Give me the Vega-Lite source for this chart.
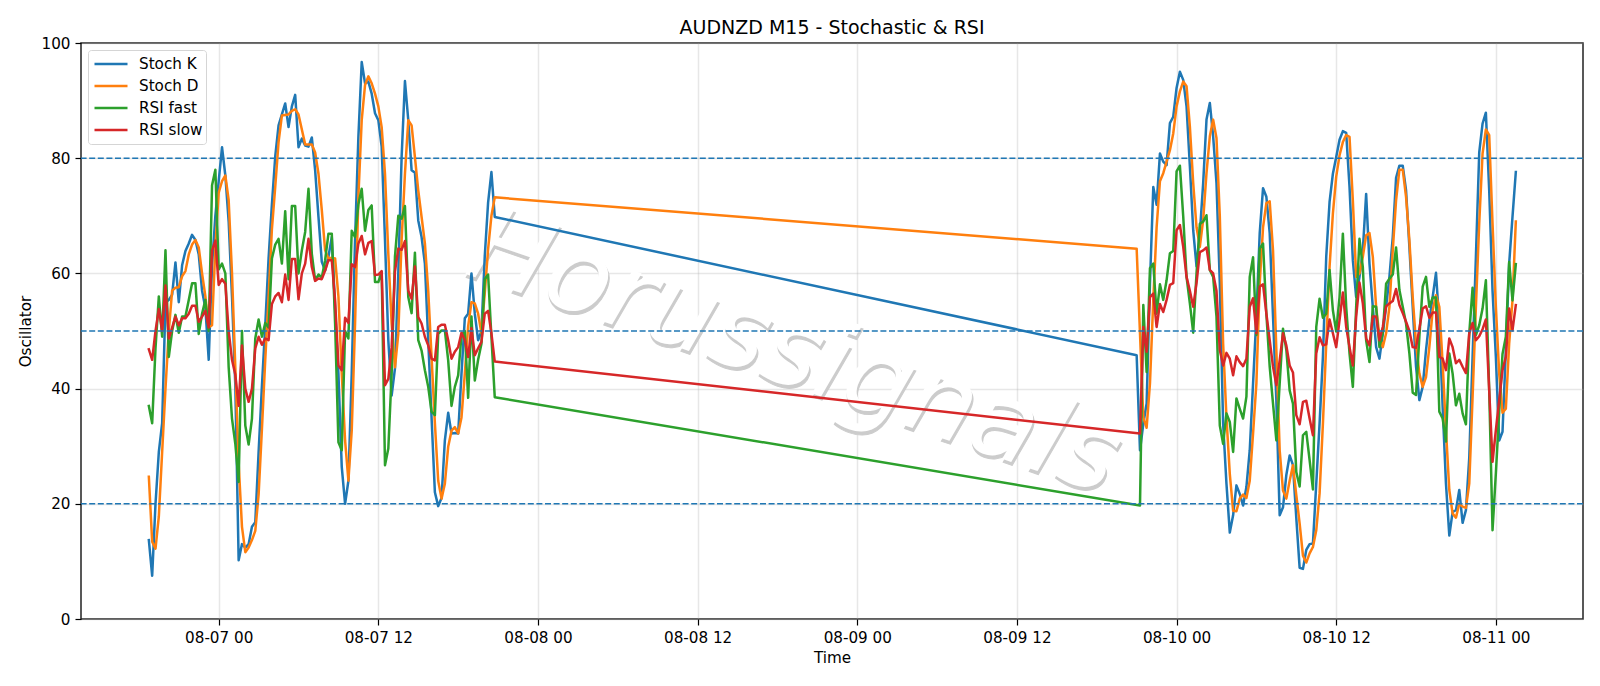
{"$schema":"https://vega.github.io/schema/vega-lite/v6.json","width":1502,"height":576,"autosize":{"type":"none"},"padding":{"left":81,"top":43,"right":17,"bottom":67},"background":"white","title":{"text":"AUDNZD M15 - Stochastic & RSI","font":"DejaVu Sans","fontSize":19,"fontWeight":"normal","color":"#000","anchor":"middle","offset":-2},"config":{"view":{"stroke":"#222","strokeWidth":1.5},"font":"DejaVu Sans"},"layer":[{"data":{"values":[{"t":"2025-08-08T19:20:00","value":45.5,"label":"Horussignals"}]},"mark":{"type":"text","font":"DejaVu Sans","fontStyle":"italic","fontSize":106,"angle":19,"align":"center","baseline":"middle","color":"#cccccc","stroke":"#cccccc","strokeWidth":1},"encoding":{"x":{"field":"t","type":"temporal","title":"Time"},"y":{"field":"value","type":"quantitative","title":"Oscillator"},"text":{"field":"label"}}},{"data":{"values":[{"t":"2025-08-08T19:20:00","value":45.5,"label":"Horussignals"}]},"mark":{"type":"text","font":"DejaVu Sans","fontStyle":"italic","fontSize":106,"angle":19,"align":"center","baseline":"middle","color":"#ffffff","dx":-2,"dy":-3},"encoding":{"x":{"field":"t","type":"temporal","title":"Time"},"y":{"field":"value","type":"quantitative","title":"Oscillator"},"text":{"field":"label"}}},{"data":{"values":[
{"t":"2025-08-06T18:45:00","Stoch K":13.7,"Stoch D":24.7,"RSI fast":37,"RSI slow":46.8},
{"t":"2025-08-06T19:00:00","Stoch K":7.5,"Stoch D":13.4,"RSI fast":34,"RSI slow":45},
{"t":"2025-08-06T19:15:00","Stoch K":20,"Stoch D":12.2,"RSI fast":47,"RSI slow":50},
{"t":"2025-08-06T19:30:00","Stoch K":29,"Stoch D":17.8,"RSI fast":56,"RSI slow":53.8},
{"t":"2025-08-06T19:45:00","Stoch K":34,"Stoch D":29,"RSI fast":49,"RSI slow":50},
{"t":"2025-08-06T20:00:00","Stoch K":55,"Stoch D":40,"RSI fast":64,"RSI slow":57.9},
{"t":"2025-08-06T20:15:00","Stoch K":55.4,"Stoch D":50,"RSI fast":45.5,"RSI slow":48.7},
{"t":"2025-08-06T20:30:00","Stoch K":56.3,"Stoch D":57,"RSI fast":50,"RSI slow":50.6},
{"t":"2025-08-06T20:45:00","Stoch K":61.9,"Stoch D":57.5,"RSI fast":52.8,"RSI slow":52.5},
{"t":"2025-08-06T21:00:00","Stoch K":55,"Stoch D":57.6,"RSI fast":49.7,"RSI slow":51},
{"t":"2025-08-06T21:15:00","Stoch K":61.4,"Stoch D":59.5,"RSI fast":52.5,"RSI slow":52.2},
{"t":"2025-08-06T21:30:00","Stoch K":63.9,"Stoch D":60.4,"RSI fast":52.5,"RSI slow":52.2},
{"t":"2025-08-06T21:45:00","Stoch K":65.2,"Stoch D":63.3,"RSI fast":55.4,"RSI slow":53},
{"t":"2025-08-06T22:00:00","Stoch K":66.7,"Stoch D":65,"RSI fast":58.3,"RSI slow":54.4},
{"t":"2025-08-06T22:15:00","Stoch K":65.8,"Stoch D":65.8,"RSI fast":58.3,"RSI slow":54.4},
{"t":"2025-08-06T22:30:00","Stoch K":63.3,"Stoch D":64.5,"RSI fast":49.5,"RSI slow":51.6},
{"t":"2025-08-06T22:45:00","Stoch K":57,"Stoch D":60,"RSI fast":53,"RSI slow":52.5},
{"t":"2025-08-06T23:00:00","Stoch K":54,"Stoch D":56,"RSI fast":55.4,"RSI slow":53.5},
{"t":"2025-08-06T23:15:00","Stoch K":45,"Stoch D":50.6,"RSI fast":50,"RSI slow":50.6},
{"t":"2025-08-06T23:30:00","Stoch K":61.4,"Stoch D":51,"RSI fast":75.3,"RSI slow":64},
{"t":"2025-08-06T23:45:00","Stoch K":70,"Stoch D":64.5,"RSI fast":78,"RSI slow":65.7},
{"t":"2025-08-07T00:00:00","Stoch K":76,"Stoch D":74,"RSI fast":60.7,"RSI slow":58},
{"t":"2025-08-07T00:15:00","Stoch K":81.9,"Stoch D":76,"RSI fast":61.7,"RSI slow":59},
{"t":"2025-08-07T00:30:00","Stoch K":77,"Stoch D":77,"RSI fast":60,"RSI slow":58.2},
{"t":"2025-08-07T00:45:00","Stoch K":69,"Stoch D":72.7,"RSI fast":43.7,"RSI slow":50},
{"t":"2025-08-07T01:00:00","Stoch K":56,"Stoch D":60,"RSI fast":34.8,"RSI slow":45},
{"t":"2025-08-07T01:15:00","Stoch K":40.5,"Stoch D":43.7,"RSI fast":30.4,"RSI slow":42.4},
{"t":"2025-08-07T01:30:00","Stoch K":10.2,"Stoch D":27,"RSI fast":23.8,"RSI slow":37},
{"t":"2025-08-07T01:45:00","Stoch K":13,"Stoch D":16,"RSI fast":50,"RSI slow":47.5},
{"t":"2025-08-07T02:00:00","Stoch K":12.4,"Stoch D":11.6,"RSI fast":33.6,"RSI slow":40},
{"t":"2025-08-07T02:15:00","Stoch K":13,"Stoch D":12.4,"RSI fast":30.3,"RSI slow":37.7},
{"t":"2025-08-07T02:30:00","Stoch K":16,"Stoch D":13.7,"RSI fast":34.8,"RSI slow":40},
{"t":"2025-08-07T02:45:00","Stoch K":16.8,"Stoch D":15.3,"RSI fast":48.7,"RSI slow":47},
{"t":"2025-08-07T03:00:00","Stoch K":29,"Stoch D":21.6,"RSI fast":52,"RSI slow":49},
{"t":"2025-08-07T03:15:00","Stoch K":40.5,"Stoch D":33,"RSI fast":49,"RSI slow":47.6},
{"t":"2025-08-07T03:30:00","Stoch K":51,"Stoch D":45,"RSI fast":51.4,"RSI slow":48.7},
{"t":"2025-08-07T03:45:00","Stoch K":62.6,"Stoch D":56,"RSI fast":50.6,"RSI slow":48.4},
{"t":"2025-08-07T04:00:00","Stoch K":72,"Stoch D":67.7,"RSI fast":62.6,"RSI slow":54.7},
{"t":"2025-08-07T04:15:00","Stoch K":80.3,"Stoch D":75,"RSI fast":65,"RSI slow":56},
{"t":"2025-08-07T04:30:00","Stoch K":85.7,"Stoch D":82.8,"RSI fast":66,"RSI slow":56.6},
{"t":"2025-08-07T04:45:00","Stoch K":87.6,"Stoch D":87.4,"RSI fast":61.7,"RSI slow":55},
{"t":"2025-08-07T05:00:00","Stoch K":89.5,"Stoch D":87.5,"RSI fast":70.8,"RSI slow":59.8},
{"t":"2025-08-07T05:15:00","Stoch K":85.4,"Stoch D":87.6,"RSI fast":59,"RSI slow":55.4},
{"t":"2025-08-07T05:30:00","Stoch K":89,"Stoch D":88.2,"RSI fast":71.7,"RSI slow":62.5},
{"t":"2025-08-07T05:45:00","Stoch K":91,"Stoch D":88.5,"RSI fast":71.7,"RSI slow":62.5},
{"t":"2025-08-07T06:00:00","Stoch K":81.9,"Stoch D":87.6,"RSI fast":60,"RSI slow":55.5},
{"t":"2025-08-07T06:15:00","Stoch K":83.4,"Stoch D":85,"RSI fast":64,"RSI slow":60},
{"t":"2025-08-07T06:30:00","Stoch K":82.2,"Stoch D":82.4,"RSI fast":67.2,"RSI slow":61.7},
{"t":"2025-08-07T06:45:00","Stoch K":82,"Stoch D":82.4,"RSI fast":74.7,"RSI slow":66},
{"t":"2025-08-07T07:00:00","Stoch K":83.6,"Stoch D":82.4,"RSI fast":63.4,"RSI slow":61.1},
{"t":"2025-08-07T07:15:00","Stoch K":77.9,"Stoch D":81,"RSI fast":58.8,"RSI slow":58.7},
{"t":"2025-08-07T07:30:00","Stoch K":69.8,"Stoch D":77.3,"RSI fast":59.8,"RSI slow":59.1},
{"t":"2025-08-07T07:45:00","Stoch K":62,"Stoch D":71,"RSI fast":59.3,"RSI slow":59},
{"t":"2025-08-07T08:00:00","Stoch K":60.5,"Stoch D":64,"RSI fast":62.3,"RSI slow":60.5},
{"t":"2025-08-07T08:15:00","Stoch K":62.9,"Stoch D":62.6,"RSI fast":66.9,"RSI slow":62.3},
{"t":"2025-08-07T08:30:00","Stoch K":66.3,"Stoch D":62.7,"RSI fast":66.9,"RSI slow":62.3},
{"t":"2025-08-07T08:45:00","Stoch K":54,"Stoch D":62.6,"RSI fast":51.3,"RSI slow":55.3},
{"t":"2025-08-07T09:00:00","Stoch K":42.6,"Stoch D":56,"RSI fast":30.7,"RSI slow":44},
{"t":"2025-08-07T09:15:00","Stoch K":26.4,"Stoch D":42.6,"RSI fast":29.3,"RSI slow":43.2},
{"t":"2025-08-07T09:30:00","Stoch K":20,"Stoch D":31,"RSI fast":50,"RSI slow":52.3},
{"t":"2025-08-07T09:45:00","Stoch K":24,"Stoch D":24,"RSI fast":48.7,"RSI slow":51.4},
{"t":"2025-08-07T10:00:00","Stoch K":42.6,"Stoch D":32.7,"RSI fast":67.4,"RSI slow":61.6},
{"t":"2025-08-07T10:15:00","Stoch K":65.8,"Stoch D":51.3,"RSI fast":66.3,"RSI slow":61.1},
{"t":"2025-08-07T10:30:00","Stoch K":83.7,"Stoch D":73.3,"RSI fast":72,"RSI slow":65.2},
{"t":"2025-08-07T10:45:00","Stoch K":96.7,"Stoch D":86.6,"RSI fast":74.7,"RSI slow":66.5},
{"t":"2025-08-07T11:00:00","Stoch K":93,"Stoch D":92.7,"RSI fast":67.4,"RSI slow":63.3},
{"t":"2025-08-07T11:15:00","Stoch K":93.3,"Stoch D":94.2,"RSI fast":71,"RSI slow":65.3},
{"t":"2025-08-07T11:30:00","Stoch K":91.2,"Stoch D":93,"RSI fast":71.8,"RSI slow":65.6},
{"t":"2025-08-07T11:45:00","Stoch K":87.8,"Stoch D":91.2,"RSI fast":58.5,"RSI slow":59.7},
{"t":"2025-08-07T12:00:00","Stoch K":86.6,"Stoch D":89,"RSI fast":58.5,"RSI slow":59.8},
{"t":"2025-08-07T12:15:00","Stoch K":82,"Stoch D":85.4,"RSI fast":60.3,"RSI slow":60.4},
{"t":"2025-08-07T12:30:00","Stoch K":65.8,"Stoch D":77.3,"RSI fast":26.7,"RSI slow":40.6},
{"t":"2025-08-07T12:45:00","Stoch K":48.4,"Stoch D":63.4,"RSI fast":29.6,"RSI slow":41.7},
{"t":"2025-08-07T13:00:00","Stoch K":38.8,"Stoch D":51.3,"RSI fast":42.6,"RSI slow":47.2},
{"t":"2025-08-07T13:15:00","Stoch K":43.5,"Stoch D":43.7,"RSI fast":62.9,"RSI slow":60.3},
{"t":"2025-08-07T13:30:00","Stoch K":60,"Stoch D":49.5,"RSI fast":70,"RSI slow":64.3},
{"t":"2025-08-07T13:45:00","Stoch K":80.2,"Stoch D":65.8,"RSI fast":69.5,"RSI slow":64.1},
{"t":"2025-08-07T14:00:00","Stoch K":93.4,"Stoch D":77.3,"RSI fast":71.7,"RSI slow":65.6},
{"t":"2025-08-07T14:15:00","Stoch K":86.6,"Stoch D":86.6,"RSI fast":55.9,"RSI slow":57},
{"t":"2025-08-07T14:30:00","Stoch K":77.9,"Stoch D":85.7,"RSI fast":53.1,"RSI slow":55.6},
{"t":"2025-08-07T14:45:00","Stoch K":77.5,"Stoch D":80.2,"RSI fast":63.6,"RSI slow":61.2},
{"t":"2025-08-07T15:00:00","Stoch K":69.2,"Stoch D":74.4,"RSI fast":48.4,"RSI slow":52.4},
{"t":"2025-08-07T15:15:00","Stoch K":66.3,"Stoch D":69.8,"RSI fast":46.6,"RSI slow":51.3},
{"t":"2025-08-07T15:30:00","Stoch K":61.7,"Stoch D":65.2,"RSI fast":43.2,"RSI slow":49},
{"t":"2025-08-07T15:45:00","Stoch K":48.4,"Stoch D":57,"RSI fast":40.3,"RSI slow":47.5},
{"t":"2025-08-07T16:00:00","Stoch K":35,"Stoch D":45.5,"RSI fast":36,"RSI slow":45.2},
{"t":"2025-08-07T16:15:00","Stoch K":22,"Stoch D":34,"RSI fast":35.4,"RSI slow":44.9},
{"t":"2025-08-07T16:30:00","Stoch K":19.6,"Stoch D":24,"RSI fast":49.5,"RSI slow":50.7},
{"t":"2025-08-07T16:45:00","Stoch K":21,"Stoch D":20.9,"RSI fast":50.1,"RSI slow":51.1},
{"t":"2025-08-07T17:00:00","Stoch K":31,"Stoch D":23.5,"RSI fast":50.1,"RSI slow":51.1},
{"t":"2025-08-07T17:15:00","Stoch K":35.8,"Stoch D":29.9,"RSI fast":44.9,"RSI slow":48.4},
{"t":"2025-08-07T17:30:00","Stoch K":32.2,"Stoch D":32.7,"RSI fast":37,"RSI slow":45.2},
{"t":"2025-08-07T17:45:00","Stoch K":32.3,"Stoch D":33.3,"RSI fast":40.3,"RSI slow":46.4},
{"t":"2025-08-07T18:00:00","Stoch K":32.2,"Stoch D":32.2,"RSI fast":42.3,"RSI slow":47.2},
{"t":"2025-08-07T18:15:00","Stoch K":42.6,"Stoch D":35,"RSI fast":49.3,"RSI slow":49.7},
{"t":"2025-08-07T18:30:00","Stoch K":52.2,"Stoch D":42.6,"RSI fast":50,"RSI slow":48.4},
{"t":"2025-08-07T18:45:00","Stoch K":53,"Stoch D":50.8,"RSI fast":38.4,"RSI slow":45.5},
{"t":"2025-08-07T19:00:00","Stoch K":60,"Stoch D":55,"RSI fast":52.5,"RSI slow":50.5},
{"t":"2025-08-07T19:15:00","Stoch K":53,"Stoch D":54.8,"RSI fast":41.4,"RSI slow":45.8},
{"t":"2025-08-07T19:30:00","Stoch K":48.4,"Stoch D":53,"RSI fast":45,"RSI slow":47},
{"t":"2025-08-07T19:45:00","Stoch K":50,"Stoch D":49.6,"RSI fast":47.8,"RSI slow":48.1},
{"t":"2025-08-07T20:00:00","Stoch K":63,"Stoch D":56.6,"RSI fast":59,"RSI slow":53},
{"t":"2025-08-07T20:15:00","Stoch K":72.3,"Stoch D":64.2,"RSI fast":59.8,"RSI slow":53.5},
{"t":"2025-08-07T20:30:00","Stoch K":77.6,"Stoch D":70,"RSI fast":49,"RSI slow":49.6},
{"t":"2025-08-07T20:45:00","Stoch K":69.8,"Stoch D":73.2,"RSI fast":38.5,"RSI slow":44.7},
{"t":"2025-08-09T21:00:00","Stoch K":45.8,"Stoch D":64.3,"RSI fast":null,"RSI slow":null},
{"t":"2025-08-09T21:15:00","Stoch K":29.3,"Stoch D":49.6,"RSI fast":19.7,"RSI slow":32.2},
{"t":"2025-08-09T21:30:00","Stoch K":33.9,"Stoch D":35,"RSI fast":54.5,"RSI slow":50.7},
{"t":"2025-08-09T21:45:00","Stoch K":37.4,"Stoch D":33.2,"RSI fast":42.9,"RSI slow":46.4},
{"t":"2025-08-09T22:00:00","Stoch K":58.3,"Stoch D":40.9,"RSI fast":60.9,"RSI slow":55.9},
{"t":"2025-08-09T22:15:00","Stoch K":75,"Stoch D":55.4,"RSI fast":61.7,"RSI slow":56.5},
{"t":"2025-08-09T22:30:00","Stoch K":71.9,"Stoch D":68,"RSI fast":53,"RSI slow":50.7},
{"t":"2025-08-09T22:45:00","Stoch K":80.8,"Stoch D":76,"RSI fast":58.1,"RSI slow":54.7},
{"t":"2025-08-09T23:00:00","Stoch K":79.4,"Stoch D":77.4,"RSI fast":55.4,"RSI slow":53.3},
{"t":"2025-08-09T23:15:00","Stoch K":78.8,"Stoch D":79.4,"RSI fast":58.8,"RSI slow":55.4},
{"t":"2025-08-09T23:30:00","Stoch K":86.1,"Stoch D":81.4,"RSI fast":63.5,"RSI slow":58},
{"t":"2025-08-09T23:45:00","Stoch K":87.2,"Stoch D":84.3,"RSI fast":63.9,"RSI slow":58.3},
{"t":"2025-08-10T00:00:00","Stoch K":92.2,"Stoch D":89,"RSI fast":77.7,"RSI slow":67.5},
{"t":"2025-08-10T00:15:00","Stoch K":95,"Stoch D":91.6,"RSI fast":78.7,"RSI slow":68.4},
{"t":"2025-08-10T00:30:00","Stoch K":93.6,"Stoch D":93.3,"RSI fast":69.9,"RSI slow":64.6},
{"t":"2025-08-10T00:45:00","Stoch K":89,"Stoch D":92.5,"RSI fast":59.4,"RSI slow":59.4},
{"t":"2025-08-10T01:00:00","Stoch K":78.6,"Stoch D":85.5,"RSI fast":54.8,"RSI slow":57},
{"t":"2025-08-10T01:15:00","Stoch K":67.5,"Stoch D":75.7,"RSI fast":49.7,"RSI slow":54.2},
{"t":"2025-08-10T01:30:00","Stoch K":61.2,"Stoch D":68,"RSI fast":60,"RSI slow":58.3},
{"t":"2025-08-10T01:45:00","Stoch K":67,"Stoch D":64.6,"RSI fast":68.6,"RSI slow":63.7},
{"t":"2025-08-10T02:00:00","Stoch K":75.7,"Stoch D":69.3,"RSI fast":69,"RSI slow":64},
{"t":"2025-08-10T02:15:00","Stoch K":86.7,"Stoch D":77.4,"RSI fast":70.1,"RSI slow":64.5},
{"t":"2025-08-10T02:30:00","Stoch K":89.6,"Stoch D":83.8,"RSI fast":60.6,"RSI slow":60.6},
{"t":"2025-08-10T02:45:00","Stoch K":83.8,"Stoch D":86.7,"RSI fast":59.4,"RSI slow":60},
{"t":"2025-08-10T03:00:00","Stoch K":75.7,"Stoch D":83.5,"RSI fast":52.5,"RSI slow":57},
{"t":"2025-08-10T03:15:00","Stoch K":58.3,"Stoch D":69.9,"RSI fast":33.6,"RSI slow":46.7},
{"t":"2025-08-10T03:30:00","Stoch K":33.9,"Stoch D":47.8,"RSI fast":30.4,"RSI slow":44},
{"t":"2025-08-10T03:45:00","Stoch K":23.5,"Stoch D":35,"RSI fast":35.7,"RSI slow":46.2},
{"t":"2025-08-10T04:00:00","Stoch K":15,"Stoch D":25.2,"RSI fast":34.2,"RSI slow":45.2},
{"t":"2025-08-10T04:15:00","Stoch K":18,"Stoch D":18.8,"RSI fast":29,"RSI slow":42.3},
{"t":"2025-08-10T04:30:00","Stoch K":23.2,"Stoch D":18.7,"RSI fast":38.3,"RSI slow":45.6},
{"t":"2025-08-10T04:45:00","Stoch K":21.7,"Stoch D":20.9,"RSI fast":36.5,"RSI slow":44.6},
{"t":"2025-08-10T05:00:00","Stoch K":19.7,"Stoch D":21.6,"RSI fast":34.8,"RSI slow":43.9},
{"t":"2025-08-10T05:15:00","Stoch K":22.9,"Stoch D":21,"RSI fast":38.6,"RSI slow":45.2},
{"t":"2025-08-10T05:30:00","Stoch K":29.3,"Stoch D":24,"RSI fast":59.4,"RSI slow":54.2},
{"t":"2025-08-10T05:45:00","Stoch K":40.9,"Stoch D":32.2,"RSI fast":62.8,"RSI slow":55.7},
{"t":"2025-08-10T06:00:00","Stoch K":52.5,"Stoch D":40.9,"RSI fast":49.3,"RSI slow":49.6},
{"t":"2025-08-10T06:15:00","Stoch K":67,"Stoch D":58.3,"RSI fast":64.3,"RSI slow":57.7},
{"t":"2025-08-10T06:30:00","Stoch K":74.8,"Stoch D":68,"RSI fast":65.2,"RSI slow":58.1},
{"t":"2025-08-10T06:45:00","Stoch K":73.3,"Stoch D":72.2,"RSI fast":53,"RSI slow":53},
{"t":"2025-08-10T07:00:00","Stoch K":67,"Stoch D":72.5,"RSI fast":43.8,"RSI slow":48.4},
{"t":"2025-08-10T07:15:00","Stoch K":52.5,"Stoch D":64,"RSI fast":37.4,"RSI slow":43.8},
{"t":"2025-08-10T07:30:00","Stoch K":38,"Stoch D":46.7,"RSI fast":31,"RSI slow":40.6},
{"t":"2025-08-10T07:45:00","Stoch K":18,"Stoch D":29.3,"RSI fast":40.9,"RSI slow":44.9},
{"t":"2025-08-10T08:00:00","Stoch K":19.4,"Stoch D":22.3,"RSI fast":50.4,"RSI slow":49.6},
{"t":"2025-08-10T08:15:00","Stoch K":25,"Stoch D":20.9,"RSI fast":46.7,"RSI slow":47.5},
{"t":"2025-08-10T08:30:00","Stoch K":28.4,"Stoch D":24,"RSI fast":39.7,"RSI slow":44},
{"t":"2025-08-10T08:45:00","Stoch K":26.7,"Stoch D":26.7,"RSI fast":37.4,"RSI slow":42.8},
{"t":"2025-08-10T09:00:00","Stoch K":17.5,"Stoch D":21.5,"RSI fast":25.5,"RSI slow":35.4},
{"t":"2025-08-10T09:15:00","Stoch K":8.9,"Stoch D":16.6,"RSI fast":23,"RSI slow":33.8},
{"t":"2025-08-10T09:30:00","Stoch K":8.7,"Stoch D":11,"RSI fast":31.9,"RSI slow":37.7},
{"t":"2025-08-10T09:45:00","Stoch K":12,"Stoch D":9.8,"RSI fast":32.5,"RSI slow":37.9},
{"t":"2025-08-10T10:00:00","Stoch K":13,"Stoch D":11.4,"RSI fast":27.6,"RSI slow":34.8},
{"t":"2025-08-10T10:15:00","Stoch K":13.1,"Stoch D":12.5,"RSI fast":22.5,"RSI slow":31.9},
{"t":"2025-08-10T10:30:00","Stoch K":23.5,"Stoch D":15.4,"RSI fast":50.7,"RSI slow":46.1},
{"t":"2025-08-10T10:45:00","Stoch K":34,"Stoch D":21.8,"RSI fast":55.6,"RSI slow":48.9},
{"t":"2025-08-10T11:00:00","Stoch K":45.5,"Stoch D":33.9,"RSI fast":52.3,"RSI slow":47.5},
{"t":"2025-08-10T11:15:00","Stoch K":62.9,"Stoch D":47.8,"RSI fast":53,"RSI slow":47.7},
{"t":"2025-08-10T11:30:00","Stoch K":72.4,"Stoch D":61.1,"RSI fast":60.6,"RSI slow":52},
{"t":"2025-08-10T11:45:00","Stoch K":77.3,"Stoch D":70.4,"RSI fast":53.6,"RSI slow":49.6},
{"t":"2025-08-10T12:00:00","Stoch K":80.2,"Stoch D":76.8,"RSI fast":49.9,"RSI slow":47.2},
{"t":"2025-08-10T12:15:00","Stoch K":83.2,"Stoch D":80.5,"RSI fast":55.9,"RSI slow":51.9},
{"t":"2025-08-10T12:30:00","Stoch K":84.7,"Stoch D":82.8,"RSI fast":66.9,"RSI slow":56.7},
{"t":"2025-08-10T12:45:00","Stoch K":84.4,"Stoch D":84,"RSI fast":54.2,"RSI slow":50.7},
{"t":"2025-08-10T13:00:00","Stoch K":75,"Stoch D":83.7,"RSI fast":46.1,"RSI slow":47.2},
{"t":"2025-08-10T13:15:00","Stoch K":62.3,"Stoch D":72.7,"RSI fast":40.3,"RSI slow":44},
{"t":"2025-08-10T13:30:00","Stoch K":55.9,"Stoch D":59.4,"RSI fast":54.2,"RSI slow":52.5},
{"t":"2025-08-10T13:45:00","Stoch K":59.4,"Stoch D":60,"RSI fast":66,"RSI slow":58.4},
{"t":"2025-08-10T14:00:00","Stoch K":64,"Stoch D":62.9,"RSI fast":61.1,"RSI slow":54.8},
{"t":"2025-08-10T14:15:00","Stoch K":73.8,"Stoch D":66.6,"RSI fast":48.4,"RSI slow":48.7},
{"t":"2025-08-10T14:30:00","Stoch K":61.7,"Stoch D":67,"RSI fast":44.6,"RSI slow":47.5},
{"t":"2025-08-10T14:45:00","Stoch K":54.2,"Stoch D":62.9,"RSI fast":54.3,"RSI slow":52.5},
{"t":"2025-08-10T15:00:00","Stoch K":47.2,"Stoch D":54.2,"RSI fast":54.2,"RSI slow":52.5},
{"t":"2025-08-10T15:15:00","Stoch K":45.2,"Stoch D":49,"RSI fast":47.2,"RSI slow":48.4},
{"t":"2025-08-10T15:30:00","Stoch K":49.5,"Stoch D":47.2,"RSI fast":49.6,"RSI slow":50.7},
{"t":"2025-08-10T15:45:00","Stoch K":54.2,"Stoch D":49.6,"RSI fast":58.2,"RSI slow":54.3},
{"t":"2025-08-10T16:00:00","Stoch K":59.4,"Stoch D":54.2,"RSI fast":59.1,"RSI slow":54.8},
{"t":"2025-08-10T16:15:00","Stoch K":66.3,"Stoch D":64,"RSI fast":59.8,"RSI slow":55.2},
{"t":"2025-08-10T16:30:00","Stoch K":76.6,"Stoch D":72.7,"RSI fast":64.5,"RSI slow":57.3},
{"t":"2025-08-10T16:45:00","Stoch K":78.7,"Stoch D":78,"RSI fast":57.1,"RSI slow":54.5},
{"t":"2025-08-10T17:00:00","Stoch K":78.7,"Stoch D":78,"RSI fast":54.2,"RSI slow":53.1},
{"t":"2025-08-10T17:15:00","Stoch K":74.4,"Stoch D":73.3,"RSI fast":51.3,"RSI slow":51.6},
{"t":"2025-08-10T17:30:00","Stoch K":64.6,"Stoch D":65.8,"RSI fast":46.1,"RSI slow":50},
{"t":"2025-08-10T17:45:00","Stoch K":54.2,"Stoch D":55.9,"RSI fast":39.3,"RSI slow":47.2},
{"t":"2025-08-10T18:00:00","Stoch K":43.8,"Stoch D":47.8,"RSI fast":38.9,"RSI slow":47.1},
{"t":"2025-08-10T18:15:00","Stoch K":38,"Stoch D":42.6,"RSI fast":49,"RSI slow":50.4},
{"t":"2025-08-10T18:30:00","Stoch K":40.3,"Stoch D":40.3,"RSI fast":57.7,"RSI slow":53.9},
{"t":"2025-08-10T18:45:00","Stoch K":46.7,"Stoch D":42,"RSI fast":59.4,"RSI slow":54.3},
{"t":"2025-08-10T19:00:00","Stoch K":51.9,"Stoch D":47.2,"RSI fast":54.2,"RSI slow":52.3},
{"t":"2025-08-10T19:15:00","Stoch K":55.9,"Stoch D":53.6,"RSI fast":55.8,"RSI slow":53.2},
{"t":"2025-08-10T19:30:00","Stoch K":60.1,"Stoch D":56.2,"RSI fast":55.8,"RSI slow":53.2},
{"t":"2025-08-10T19:45:00","Stoch K":51.3,"Stoch D":54.2,"RSI fast":36,"RSI slow":45.5},
{"t":"2025-08-10T20:00:00","Stoch K":36.8,"Stoch D":44.4,"RSI fast":34.8,"RSI slow":45.2},
{"t":"2025-08-10T20:15:00","Stoch K":23.5,"Stoch D":32.8,"RSI fast":30.8,"RSI slow":43.2},
{"t":"2025-08-10T20:30:00","Stoch K":14.5,"Stoch D":22.4,"RSI fast":46.1,"RSI slow":48.7},
{"t":"2025-08-10T20:45:00","Stoch K":18.6,"Stoch D":18.3,"RSI fast":42.6,"RSI slow":47.2},
{"t":"2025-08-10T21:00:00","Stoch K":18.9,"Stoch D":17.6,"RSI fast":37.1,"RSI slow":44.4},
{"t":"2025-08-10T21:15:00","Stoch K":22.4,"Stoch D":20,"RSI fast":39.1,"RSI slow":45},
{"t":"2025-08-10T21:30:00","Stoch K":16.7,"Stoch D":19.5,"RSI fast":35.7,"RSI slow":43.8},
{"t":"2025-08-10T21:45:00","Stoch K":18.9,"Stoch D":19.3,"RSI fast":33.8,"RSI slow":42.7},
{"t":"2025-08-10T22:00:00","Stoch K":28,"Stoch D":23.5,"RSI fast":49.6,"RSI slow":49.6},
{"t":"2025-08-10T22:15:00","Stoch K":45.5,"Stoch D":38.5,"RSI fast":57.5,"RSI slow":51.4},
{"t":"2025-08-10T22:30:00","Stoch K":62.9,"Stoch D":54.2,"RSI fast":49.3,"RSI slow":48.4},
{"t":"2025-08-10T22:45:00","Stoch K":81,"Stoch D":68.7,"RSI fast":51,"RSI slow":49.1},
{"t":"2025-08-10T23:00:00","Stoch K":86,"Stoch D":80.8,"RSI fast":53.9,"RSI slow":50.3},
{"t":"2025-08-10T23:15:00","Stoch K":87.9,"Stoch D":85,"RSI fast":58.8,"RSI slow":52},
{"t":"2025-08-10T23:30:00","Stoch K":74.4,"Stoch D":84,"RSI fast":39.7,"RSI slow":39.7},
{"t":"2025-08-10T23:45:00","Stoch K":57,"Stoch D":68.7,"RSI fast":15.4,"RSI slow":27.3},
{"t":"2025-08-11T00:00:00","Stoch K":45.5,"Stoch D":54.2,"RSI fast":25.3,"RSI slow":32.8},
{"t":"2025-08-11T00:15:00","Stoch K":31,"Stoch D":42.6,"RSI fast":36,"RSI slow":38},
{"t":"2025-08-11T00:30:00","Stoch K":32.5,"Stoch D":35.8,"RSI fast":46,"RSI slow":43.2},
{"t":"2025-08-11T00:45:00","Stoch K":46.7,"Stoch D":36.5,"RSI fast":49,"RSI slow":45.5},
{"t":"2025-08-11T01:00:00","Stoch K":61.7,"Stoch D":47.8,"RSI fast":62,"RSI slow":53.9},
{"t":"2025-08-11T01:15:00","Stoch K":69.8,"Stoch D":55.3,"RSI fast":55.3,"RSI slow":50.1},
{"t":"2025-08-11T01:30:00","Stoch K":77.6,"Stoch D":69,"RSI fast":61.6,"RSI slow":54.5}
]},"transform":[{"fold":["Stoch K","Stoch D","RSI fast","RSI slow"],"as":["series","value"]},{"filter":"datum.value !== null"}],"mark":{"type":"line","strokeWidth":2.5,"interpolate":"linear","strokeJoin":"round","strokeCap":"square"},"encoding":{"x":{"field":"t","type":"temporal","title":"Time","scale":{"domain":[{"year":2025,"month":8,"date":6,"hours":13,"minutes":39},{"year":2025,"month":8,"date":11,"hours":6,"minutes":33}]},"axis":{"format":"%m-%d %H","values":[{"year":2025,"month":8,"date":7,"hours":0},{"year":2025,"month":8,"date":7,"hours":12},{"year":2025,"month":8,"date":8,"hours":0},{"year":2025,"month":8,"date":8,"hours":12},{"year":2025,"month":8,"date":9,"hours":0},{"year":2025,"month":8,"date":9,"hours":12},{"year":2025,"month":8,"date":10,"hours":0},{"year":2025,"month":8,"date":10,"hours":12},{"year":2025,"month":8,"date":11,"hours":0}],"labelFont":"DejaVu Sans","labelFontSize":15.2,"labelColor":"#000","labelPadding":5,"labelFlush":false,"titleFont":"DejaVu Sans","titleFontSize":15.2,"titleFontWeight":"normal","titleColor":"#000","titlePadding":5,"domain":false,"ticks":true,"tickColor":"#000","tickSize":6,"tickWidth":1.2,"grid":true,"gridColor":"#b0b0b0","gridOpacity":0.3,"gridWidth":1.5}},"y":{"field":"value","type":"quantitative","title":"Oscillator","scale":{"domain":[0,100],"nice":false},"axis":{"values":[0,20,40,60,80,100],"labelFont":"DejaVu Sans","labelFontSize":15.2,"labelColor":"#000","labelPadding":5,"titleFont":"DejaVu Sans","titleFontSize":15.2,"titleFontWeight":"normal","titleColor":"#000","titlePadding":8,"domain":false,"ticks":true,"tickColor":"#000","tickSize":6,"tickWidth":1.2,"grid":true,"gridColor":"#b0b0b0","gridOpacity":0.3,"gridWidth":1.5}},"color":{"field":"series","type":"nominal","scale":{"domain":["Stoch K","Stoch D","RSI fast","RSI slow"],"range":["#1f77b4","#ff7f0e","#2ca02c","#d62728"]},"legend":{"title":null,"orient":"none","legendX":7,"legendY":7,"fillColor":"white","strokeColor":"#d5d5d5","cornerRadius":3,"padding":3,"symbolType":"stroke","symbolSize":1089,"symbolStrokeWidth":2.4,"symbolOffset":2,"clipHeight":22,"rowPadding":0,"labelFont":"DejaVu Sans","labelFontSize":15.2,"labelColor":"#000","labelOffset":10}}}},{"data":{"values":[{"level":80},{"level":50},{"level":20}]},"mark":{"type":"rule","color":"#1f77b4","strokeWidth":1.6,"strokeDash":[6,2.6]},"encoding":{"y":{"field":"level","type":"quantitative","title":"Oscillator"}}}]}
